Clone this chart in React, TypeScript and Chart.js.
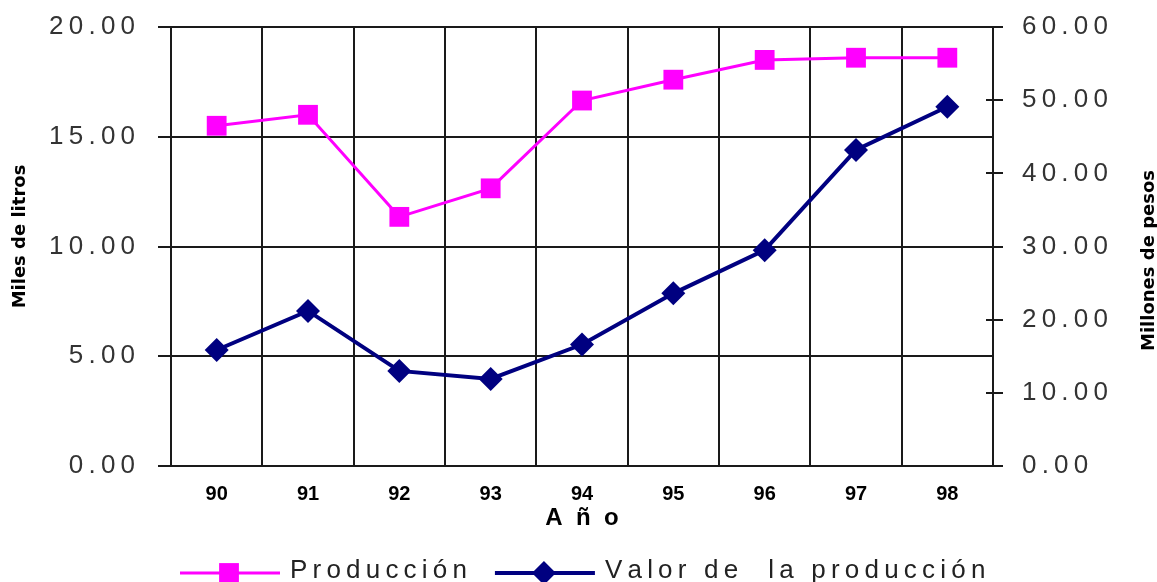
import React, { useEffect, useRef } from 'react';
import { Chart, registerables } from 'chart.js';

Chart.register(...registerables);

// ---- data ----
const years = ['90', '91', '92', '93', '94', '95', '96', '97', '98'];
const produccion = [15.5, 16.0, 11.35, 12.65, 16.65, 17.6, 18.5, 18.6, 18.6];
const valorProduccion = [15.85, 21.2, 13.0, 11.9, 16.6, 23.6, 29.5, 43.2, 49.1];
const leftAxis = { min: 0, max: 20, step: 5 };
const rightAxis = { min: 0, max: 60, step: 10 };
const seriesLabels = ['Producción', 'Valor de  la producción'];
const xTitle = 'Año';
const leftTitle = 'Miles de litros';
const rightTitle = 'Millones de pesos';

const PINK = '#FF00FF';
const NAVY = '#000080';
const GRID = '#1a1a1a';
const THIN = "'Liberation Sans', Arial, sans-serif";
const BOLD = "'Liberation Sans', Arial, sans-serif";
const WIDEBOLD = "'DejaVu Sans', sans-serif";
const TS = '\u2009'; // thin space used as letter spacing

const spaced = (s: string, sep = TS) => s.split('').join(sep);

const extrasPlugin = {
  id: 'extras',
  afterDraw(chart: any) {
    const ctx = chart.ctx as CanvasRenderingContext2D;
    const area = chart.chartArea;
    const yR = chart.scales.yR;
    const midY = (area.top + area.bottom) / 2;

    // inner tick marks on right axis
    ctx.save();
    ctx.strokeStyle = GRID;
    ctx.lineWidth = 2;
    for (let v = rightAxis.min; v <= rightAxis.max; v += rightAxis.step) {
      const y = Math.round(yR.getPixelForValue(v));
      ctx.beginPath();
      ctx.moveTo(area.right - 7, y);
      ctx.lineTo(area.right, y);
      ctx.stroke();
    }
    ctx.restore();

    // axis titles (both read bottom to top)
    ctx.save();
    ctx.font = `bold 18px ${WIDEBOLD}`;
    ctx.fillStyle = '#000';
    ctx.textAlign = 'center';
    ctx.textBaseline = 'middle';
    ctx.translate(20, midY - 10);
    ctx.rotate(-Math.PI / 2);
    ctx.fillText(leftTitle, 0, 0);
    ctx.restore();

    ctx.save();
    ctx.font = `bold 18px ${WIDEBOLD}`;
    ctx.fillStyle = '#000';
    ctx.textAlign = 'center';
    ctx.textBaseline = 'middle';
    ctx.translate(1149, midY + 14);
    ctx.rotate(-Math.PI / 2);
    ctx.fillText(rightTitle, 0, 0);
    ctx.restore();

    // legend
    ctx.save();
    const ly = 573;
    let x = 180;
    ctx.font = `26px ${THIN}`;
    ctx.textBaseline = 'middle';
    ctx.textAlign = 'left';
    chart.data.datasets.forEach((ds: any) => {
      const color = ds.borderColor;
      ctx.strokeStyle = color;
      ctx.lineWidth = ds.borderWidth;
      ctx.beginPath();
      ctx.moveTo(x, ly);
      ctx.lineTo(x + 100, ly);
      ctx.stroke();
      ctx.fillStyle = color;
      const cx = x + 49;
      if (ds.pointStyle === 'rect') {
        const s = ds.pointRadius * Math.SQRT1_2;
        ctx.fillRect(cx - s, ly - s, 2 * s, 2 * s);
      } else {
        const r = ds.pointRadius;
        ctx.beginPath();
        ctx.moveTo(cx - r, ly);
        ctx.lineTo(cx, ly - r);
        ctx.lineTo(cx + r, ly);
        ctx.lineTo(cx, ly + r);
        ctx.closePath();
        ctx.fill();
      }
      const txt = spaced(ds.label);
      ctx.fillStyle = '#222';
      ctx.fillText(txt, x + 110, ly - 2);
      x += 110 + ctx.measureText(txt).width + 28;
    });
    ctx.restore();
  },
};

export default function App() {
  const ref = useRef<HTMLCanvasElement>(null);

  useEffect(() => {
    if (!ref.current) return;
    const chart = new Chart(ref.current, {
      type: 'line',
      data: {
        labels: years,
        datasets: [
          {
            label: seriesLabels[0],
            data: produccion,
            yAxisID: 'yL',
            borderColor: PINK,
            backgroundColor: PINK,
            borderWidth: 3,
            pointStyle: 'rect',
            pointRadius: 14,
            pointBorderWidth: 0,
            pointBackgroundColor: PINK,
            tension: 0,
          },
          {
            label: seriesLabels[1],
            data: valorProduccion,
            yAxisID: 'yR',
            borderColor: NAVY,
            backgroundColor: NAVY,
            borderWidth: 4,
            pointStyle: 'rectRot',
            pointRadius: 12,
            pointBorderWidth: 0,
            pointBackgroundColor: NAVY,
            tension: 0,
          },
        ],
      },
      options: {
        responsive: false,
        animation: false,
        layout: { padding: { top: 27, left: 0, right: 0, bottom: 0 } },
        plugins: {
          legend: { display: false },
          title: { display: false },
          tooltip: { enabled: false },
        },
        scales: {
          x: {
            type: 'category',
            offset: true,
            grid: { offset: true, color: GRID, lineWidth: 2, drawTicks: false },
            border: { display: true, color: GRID, width: 2 },
            ticks: {
              padding: 16,
              color: '#000',
              autoSkip: false,
              maxRotation: 0,
              font: { family: BOLD, size: 20, weight: 'bold' },
            },
            title: {
              display: true,
              text: spaced(xTitle, '  '),
              color: '#000',
              font: { family: BOLD, size: 24, weight: 'bold' },
              padding: { top: 0, bottom: 49 },
            },
            afterFit: (s: any) => {
              s.height = 116;
            },
          },
          yL: {
            type: 'linear',
            position: 'left',
            min: leftAxis.min,
            max: leftAxis.max,
            grid: { color: GRID, lineWidth: 2, tickLength: 13 },
            border: { display: true, color: GRID, width: 2 },
            ticks: {
              stepSize: leftAxis.step,
              padding: 23,
              color: '#333',
              font: { family: THIN, size: 26 },
              callback: (v: any) => spaced(Number(v).toFixed(2)),
            },
            afterFit: (s: any) => {
              s.width = 171;
              s.paddingTop = 0;
              s.paddingBottom = 0;
            },
          },
          yR: {
            type: 'linear',
            position: 'right',
            min: rightAxis.min,
            max: rightAxis.max,
            grid: { drawOnChartArea: false, color: GRID, lineWidth: 2, tickLength: 10 },
            border: { display: true, color: GRID, width: 2 },
            ticks: {
              stepSize: rightAxis.step,
              padding: 19,
              color: '#333',
              font: { family: THIN, size: 26 },
              callback: (v: any) => spaced(Number(v).toFixed(2)),
            },
            afterFit: (s: any) => {
              s.width = 164;
              s.paddingTop = 0;
              s.paddingBottom = 0;
            },
          },
        },
      },
      plugins: [extrasPlugin],
    });
    return () => chart.destroy();
  }, []);

  return (
    <div style={{ position: 'fixed', left: 0, top: 0, width: 1157, height: 582, background: '#fff' }}>
      <canvas ref={ref} width={1157} height={582} style={{ display: 'block' }} />
    </div>
  );
}
